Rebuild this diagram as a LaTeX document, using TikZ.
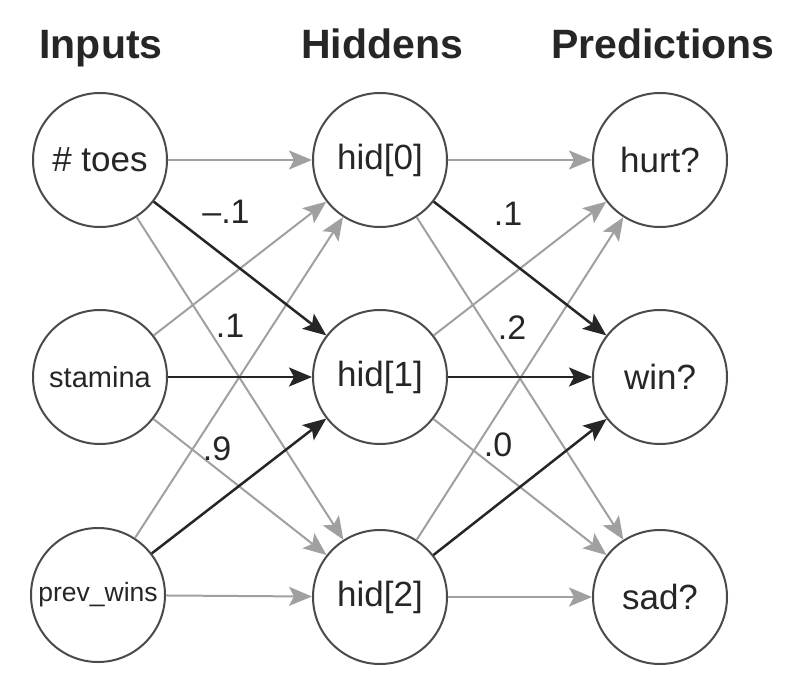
\documentclass[tikz,border=0pt]{standalone}
\usepackage{fontspec}
\setmainfont{Liberation Sans}
\usetikzlibrary{arrows.meta}
\definecolor{ink}{HTML}{262626}
\definecolor{rim}{HTML}{4A4A4A}
\definecolor{lite}{HTML}{A0A0A0}
\definecolor{dark}{HTML}{262626}
\tikzset{
  neuron/.style={circle, draw=rim, line width=2pt, minimum size=134pt, inner sep=0pt, text=ink},
  head/.style={font=\bfseries\fontsize{41}{44}\selectfont, text=ink, anchor=base},
  wlabel/.style={font=\fontsize{34}{36}\selectfont, text=ink},
  litearrow/.style={draw=lite, line width=2pt, -{Stealth[length=23pt,width=19pt,inset=5pt]}, fill=lite},
  darkarrow/.style={draw=dark, line width=2.5pt, -{Stealth[length=23pt,width=19pt,inset=5pt]}, fill=dark},
}
\begin{document}
\begin{tikzpicture}[x=1pt,y=-1pt]
\useasboundingbox (0,0) rectangle (800,698);
% headings
\node[head] (hin) at (101,59) {Inputs};
\node[head] (hhid) at (382,59) {Hiddens};
\node[head] (hpred) at (663,59) {Predictions};
% input nodes
\node[neuron, font=\fontsize{35}{38}\selectfont] (i0) at (100,160) {\# toes};
\node[neuron, font=\fontsize{29}{32}\selectfont] (i1) at (100,377) {stamina};
\node[neuron, font=\fontsize{26.5}{30}\selectfont] (i2) at (98,595) {prev\_wins};
% hidden nodes
\node[neuron, font=\fontsize{35}{38}\selectfont] (h0) at (380,160) {hid[0]};
\node[neuron, font=\fontsize{35}{38}\selectfont] (h1) at (380,377) {hid[1]};
\node[neuron, font=\fontsize{35}{38}\selectfont] (h2) at (380,597) {hid[2]};
% prediction nodes
\node[neuron, font=\fontsize{35}{38}\selectfont] (p0) at (660,160) {hurt?};
\node[neuron, font=\fontsize{35}{38}\selectfont] (p1) at (660,377) {win?};
\node[neuron, font=\fontsize{35}{38}\selectfont] (p2) at (660,597) {sad?};
% inputs -> hiddens
\draw[litearrow] (i0) -- (h0);
\draw[litearrow] (i1) -- (h0);
\draw[litearrow] (i2) -- (h0);
\draw[litearrow] (i0) -- (h2);
\draw[litearrow] (i1) -- (h2);
\draw[litearrow] (i2) -- (h2);
\draw[darkarrow] (i0) -- (h1);
\draw[darkarrow] (i1) -- (h1);
\draw[darkarrow] (i2) -- (h1);
% hiddens -> predictions
\draw[litearrow] (h0) -- (p0);
\draw[litearrow] (h1) -- (p0);
\draw[litearrow] (h2) -- (p0);
\draw[litearrow] (h0) -- (p2);
\draw[litearrow] (h1) -- (p2);
\draw[litearrow] (h2) -- (p2);
\draw[darkarrow] (h0) -- (p1);
\draw[darkarrow] (h1) -- (p1);
\draw[darkarrow] (h2) -- (p1);
% weight labels
\node[wlabel] (w1) at (226,212) {\char"2013.1};
\node[wlabel] (w2) at (230,326) {.1};
\node[wlabel] (w3) at (217,449) {.9};
\node[wlabel] (w4) at (508,214) {.1};
\node[wlabel] (w5) at (512,328) {.2};
\node[wlabel] (w6) at (498,445) {.0};
\end{tikzpicture}
\end{document}
